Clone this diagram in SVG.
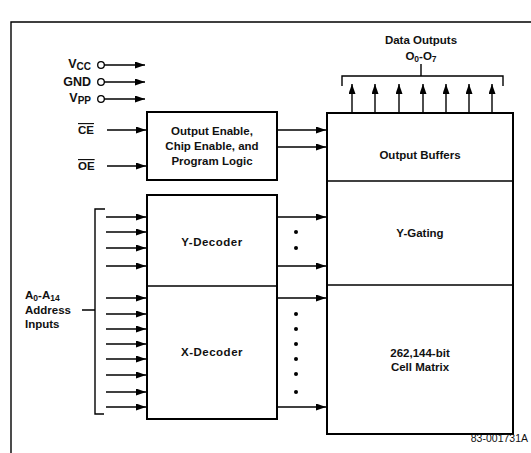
<svg xmlns="http://www.w3.org/2000/svg" width="531" height="453" viewBox="0 0 531 453">
<defs>
<marker id="ah" markerUnits="userSpaceOnUse" markerWidth="11" markerHeight="8" refX="10" refY="3.5" orient="auto">
<path d="M0,0 L10,3.5 L0,7 z" fill="#000"/>
</marker>
<style>
.box{fill:#fff;stroke:#000;stroke-width:2}
.ln{fill:none;stroke:#000;stroke-width:1.4}
.ar{fill:none;stroke:#000;stroke-width:1.4;marker-end:url(#ah)}
.t{font-family:"Liberation Sans",Arial,sans-serif;font-weight:bold;font-size:11.5px;fill:#111}
.p{font-size:12.5px}
.c{text-anchor:middle}
.r{text-anchor:end}
.sub{font-size:8.5px}
.p .sub{font-size:10px}
.dot{fill:#000}
</style>
</defs>
<rect width="531" height="453" fill="#fff"/>
<g id="frame"><path class="ln" d="M11,453 V22 H531"/></g>

<g id="power">
<text class="t p r" x="91" y="68">V<tspan class="sub" dy="2">CC</tspan></text>
<text class="t p r" x="91" y="86">GND</text>
<text class="t p r" x="91" y="102">V<tspan class="sub" dy="2">PP</tspan></text>
<circle cx="101" cy="65" r="3.3" fill="#fff" stroke="#000" stroke-width="1.3"/>
<circle cx="101" cy="82" r="3.3" fill="#fff" stroke="#000" stroke-width="1.3"/>
<circle cx="101" cy="99" r="3.3" fill="#fff" stroke="#000" stroke-width="1.3"/>
</g>

<g id="ce-oe">
<text class="t" x="78" y="134" style="text-decoration:overline">CE</text>
<text class="t" x="78" y="170" style="text-decoration:overline">OE</text>
</g>

<g id="control">
<rect class="box" x="147" y="112" width="130" height="68"/>
<text class="t c" x="212" y="135">Output Enable,</text>
<text class="t c" x="212" y="150">Chip Enable, and</text>
<text class="t c" x="212" y="165">Program Logic</text>
</g>

<g id="decoders">
<rect class="box" x="147" y="195" width="130" height="224"/>
<line class="ln" x1="147" y1="286" x2="277" y2="286" style="stroke-width:1.6"/>
<text class="t c" x="212" y="246" style="letter-spacing:0.5px">Y-Decoder</text>
<text class="t c" x="212" y="356" style="letter-spacing:0.5px">X-Decoder</text>
</g>

<g id="output-block">
<rect class="box" x="327" y="113" width="186" height="321"/>
<line class="ln" x1="327" y1="181" x2="513" y2="181" style="stroke-width:1.6"/>
<line class="ln" x1="327" y1="285" x2="513" y2="285" style="stroke-width:1.6"/>
<text class="t c" x="420" y="159">Output Buffers</text>
<text class="t c" x="420" y="237">Y-Gating</text>
<text class="t c" x="420" y="357">262,144-bit</text>
<text class="t c" x="420" y="371">Cell Matrix</text>
</g>

<g id="data-outputs">
<text class="t c" x="421" y="44">Data Outputs</text>
<text class="t c" x="421" y="60">O<tspan class="sub" dy="2">0</tspan><tspan dy="-2">-O</tspan><tspan class="sub" dy="2">7</tspan></text>
</g>

<g id="address">
<text class="t" x="25" y="299">A<tspan class="sub" dy="2">0</tspan><tspan dy="-2">-A</tspan><tspan class="sub" dy="2">14</tspan></text>
<text class="t" x="25" y="314">Address</text>
<text class="t" x="25" y="328">Inputs</text>
</g>

<g id="label-code">
<text x="528" y="442" text-anchor="end" style="font-family:'Liberation Sans',Arial,sans-serif;font-size:10.5px;fill:#111">83-001731A</text>
</g>

<g id="connectors">
<line class="ar" x1="104" y1="65" x2="145" y2="65"/>
<line class="ar" x1="104" y1="82" x2="145" y2="82"/>
<line class="ar" x1="104" y1="99" x2="145" y2="99"/>
<line class="ar" x1="107" y1="130" x2="146" y2="130"/>
<line class="ar" x1="107" y1="166" x2="146" y2="166"/>
<line class="ar" x1="277" y1="130" x2="326" y2="130"/>
<line class="ar" x1="277" y1="147" x2="326" y2="147"/>
<line class="ar" x1="352" y1="113" x2="352" y2="84"/>
<line class="ar" x1="375" y1="113" x2="375" y2="84"/>
<line class="ar" x1="399" y1="113" x2="399" y2="84"/>
<line class="ar" x1="423" y1="113" x2="423" y2="84"/>
<line class="ar" x1="446" y1="113" x2="446" y2="84"/>
<line class="ar" x1="469" y1="113" x2="469" y2="84"/>
<line class="ar" x1="492" y1="113" x2="492" y2="84"/>
<path class="ln" d="M342,86 V76 H503 V86 M421,76 V64"/>
<path class="ln" d="M105,209 H95 V414 H104 M82,310 H95"/>
<line class="ar" x1="106" y1="217" x2="146" y2="217"/>
<line class="ar" x1="106" y1="232" x2="146" y2="232"/>
<line class="ar" x1="106" y1="248" x2="146" y2="248"/>
<line class="ar" x1="106" y1="266" x2="146" y2="266"/>
<line class="ar" x1="106" y1="298" x2="146" y2="298"/>
<line class="ar" x1="106" y1="314" x2="146" y2="314"/>
<line class="ar" x1="106" y1="329" x2="146" y2="329"/>
<line class="ar" x1="106" y1="344" x2="146" y2="344"/>
<line class="ar" x1="106" y1="359" x2="146" y2="359"/>
<line class="ar" x1="106" y1="375" x2="146" y2="375"/>
<line class="ar" x1="106" y1="392" x2="146" y2="392"/>
<line class="ar" x1="106" y1="407" x2="146" y2="407"/>
<line class="ar" x1="277" y1="217" x2="326" y2="217"/>
<line class="ar" x1="277" y1="266" x2="326" y2="266"/>
<line class="ar" x1="277" y1="298" x2="326" y2="298"/>
<line class="ar" x1="277" y1="407" x2="326" y2="407"/>
<circle class="dot" cx="296" cy="232" r="2"/>
<circle class="dot" cx="296" cy="248" r="2"/>
<circle class="dot" cx="296" cy="314" r="2"/>
<circle class="dot" cx="296" cy="329" r="2"/>
<circle class="dot" cx="296" cy="344" r="2"/>
<circle class="dot" cx="296" cy="359" r="2"/>
<circle class="dot" cx="296" cy="374" r="2"/>
<circle class="dot" cx="296" cy="392" r="2"/>
</g>
</svg>
